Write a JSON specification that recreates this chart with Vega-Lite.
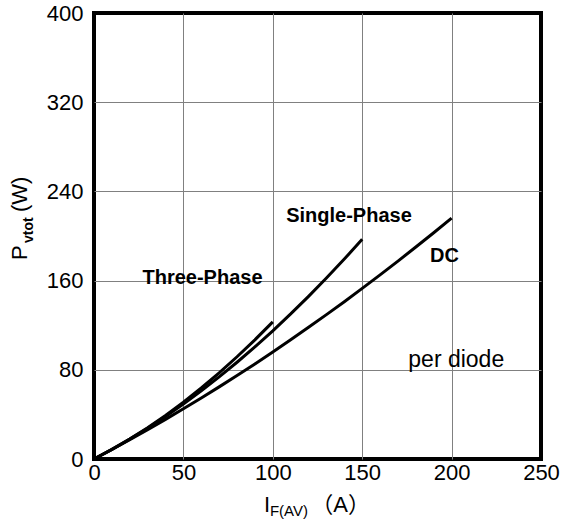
{
  "$schema": "https://vega.github.io/schema/vega-lite/v6.json",
  "width": 447,
  "height": 446,
  "autosize": {"type": "none"},
  "padding": {"left": 94, "top": 13, "right": 24, "bottom": 61},
  "background": "white",
  "config": {
    "font": "Liberation Sans",
    "view": {"stroke": "black", "strokeWidth": 4},
    "axis": {
      "grid": true,
      "gridColor": "#808080",
      "gridWidth": 1,
      "gridOpacity": {"condition": {"test": "datum.value === 0 || datum.value === 250 || datum.value === 400", "value": 0}, "value": 1},
      "domain": false,
      "ticks": false,
      "labelColor": "black",
      "labelFont": "Liberation Sans",
      "labelFontSize": 22,
      "labelFlush": false,
      "labelOverlap": false,
      "title": null
    }
  },
  "datasets": {
    "curves": [
      {"series": "DC", "I": 0, "P": 0},
      {"series": "DC", "I": 10, "P": 8.5},
      {"series": "DC", "I": 20, "P": 17.3},
      {"series": "DC", "I": 30, "P": 26.3},
      {"series": "DC", "I": 40, "P": 35.5},
      {"series": "DC", "I": 50, "P": 45},
      {"series": "DC", "I": 60, "P": 54.7},
      {"series": "DC", "I": 70, "P": 64.7},
      {"series": "DC", "I": 80, "P": 74.9},
      {"series": "DC", "I": 90, "P": 85.3},
      {"series": "DC", "I": 100, "P": 96},
      {"series": "DC", "I": 110, "P": 106.9},
      {"series": "DC", "I": 120, "P": 118.1},
      {"series": "DC", "I": 130, "P": 129.5},
      {"series": "DC", "I": 140, "P": 141.1},
      {"series": "DC", "I": 150, "P": 153},
      {"series": "DC", "I": 160, "P": 165.1},
      {"series": "DC", "I": 170, "P": 177.5},
      {"series": "DC", "I": 180, "P": 190.1},
      {"series": "DC", "I": 190, "P": 202.9},
      {"series": "DC", "I": 200, "P": 216},
      {"series": "Single", "I": 0, "P": 0},
      {"series": "Single", "I": 10, "P": 8.6},
      {"series": "Single", "I": 20, "P": 17.8},
      {"series": "Single", "I": 30, "P": 27.6},
      {"series": "Single", "I": 40, "P": 38.1},
      {"series": "Single", "I": 50, "P": 49.3},
      {"series": "Single", "I": 60, "P": 61.2},
      {"series": "Single", "I": 70, "P": 73.6},
      {"series": "Single", "I": 80, "P": 86.8},
      {"series": "Single", "I": 90, "P": 100.6},
      {"series": "Single", "I": 100, "P": 115},
      {"series": "Single", "I": 110, "P": 130.1},
      {"series": "Single", "I": 120, "P": 145.9},
      {"series": "Single", "I": 130, "P": 162.3},
      {"series": "Single", "I": 140, "P": 179.3},
      {"series": "Single", "I": 150, "P": 197},
      {"series": "Three", "I": 0, "P": 0},
      {"series": "Three", "I": 10, "P": 8.5},
      {"series": "Three", "I": 20, "P": 17.9},
      {"series": "Three", "I": 30, "P": 28.1},
      {"series": "Three", "I": 40, "P": 39.1},
      {"series": "Three", "I": 50, "P": 51},
      {"series": "Three", "I": 60, "P": 63.7},
      {"series": "Three", "I": 70, "P": 77.3},
      {"series": "Three", "I": 80, "P": 91.7},
      {"series": "Three", "I": 90, "P": 106.9},
      {"series": "Three", "I": 100, "P": 123}
    ],
    "boldLabels": [
      {"I": 60.7, "P": 157, "label": "Three-Phase"},
      {"I": 142.6, "P": 212.5, "label": "Single-Phase"},
      {"I": 196, "P": 176.6, "label": "DC"}
    ],
    "note": [
      {"I": 202.6, "P": 82.4, "label": "per diode"}
    ],
    "bigTitle": [
      {"I": 95.1, "P": -47.5, "label": "I"},
      {"I": 121.5, "P": -47.5, "label": "（A）"}
    ],
    "subTitle": [
      {"I": 98.4, "P": -51.1, "label": "F(AV)"}
    ],
    "yBig": [
      {"I": -37.5, "P": 178.5, "label": "P"},
      {"I": -37.5, "P": 221.5, "label": "(W)"}
    ],
    "ySub": [
      {"I": -34.1, "P": 193.7, "label": "vtot"}
    ]
  },
  "encoding": {
    "x": {"field": "I", "type": "quantitative", "scale": {"domain": [0, 250], "nice": false, "zero": false},
      "axis": {"values": [0, 50, 100, 150, 200, 250], "labelPadding": 3}},
    "y": {"field": "P", "type": "quantitative", "scale": {"domain": [0, 400], "nice": false, "zero": false},
      "axis": {"values": [0, 80, 160, 240, 320, 400], "labelPadding": 11}}
  },
  "layer": [
    {
      "data": {"name": "curves"},
      "mark": {"type": "line", "color": "black", "strokeWidth": 3, "clip": false},
      "encoding": {"detail": {"field": "series"}, "order": {"field": "I", "type": "quantitative"}}
    },
    {
      "data": {"name": "boldLabels"},
      "mark": {"type": "text", "font": "Liberation Sans", "fontSize": 20, "fontWeight": "bold", "align": "center", "baseline": "alphabetic", "color": "black"},
      "encoding": {"text": {"field": "label"}}
    },
    {
      "data": {"name": "note"},
      "mark": {"type": "text", "font": "Liberation Sans", "fontSize": 23, "align": "center", "baseline": "alphabetic", "color": "black"},
      "encoding": {"text": {"field": "label"}}
    },
    {
      "data": {"name": "bigTitle"},
      "mark": {"type": "text", "font": "Liberation Sans, Noto Sans CJK SC", "fontSize": 22, "align": "left", "baseline": "alphabetic", "color": "black"},
      "encoding": {"text": {"field": "label"}}
    },
    {
      "data": {"name": "subTitle"},
      "mark": {"type": "text", "font": "Liberation Sans", "fontSize": 15, "align": "left", "baseline": "alphabetic", "color": "black"},
      "encoding": {"text": {"field": "label"}}
    },
    {
      "data": {"name": "yBig"},
      "mark": {"type": "text", "font": "Liberation Sans", "fontSize": 22, "angle": 270, "align": "left", "baseline": "alphabetic", "color": "black"},
      "encoding": {"text": {"field": "label"}}
    },
    {
      "data": {"name": "ySub"},
      "mark": {"type": "text", "font": "Liberation Sans", "fontSize": 14, "fontWeight": "bold", "angle": 270, "align": "left", "baseline": "alphabetic", "color": "black"},
      "encoding": {"text": {"field": "label"}}
    }
  ]
}
